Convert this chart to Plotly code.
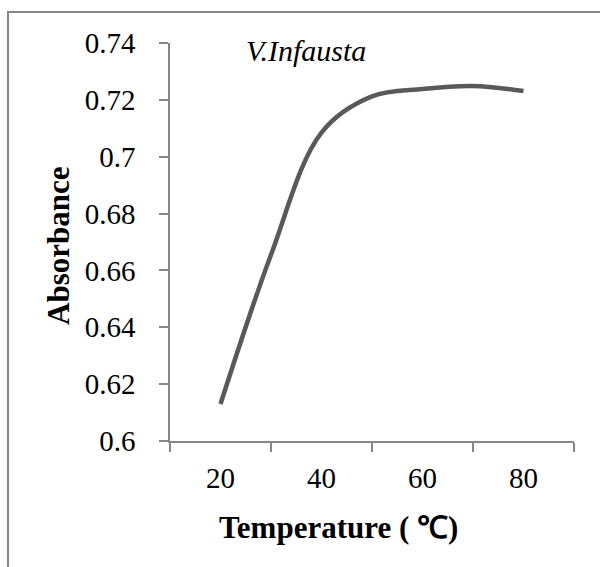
import plotly.graph_objects as go

temperature = [20, 30, 40, 50, 60, 70, 80]
absorbance = [0.613, 0.6655, 0.7085, 0.7212, 0.7238, 0.7249, 0.7231]
x_tick_vals = [20, 40, 60, 80]
x_tick_text = ["20", "40", "60", "80"]
x_tickmark_vals = [10, 30, 50, 70, 90]
y_tick_vals = [0.6, 0.62, 0.64, 0.66, 0.68, 0.7, 0.72, 0.74]
y_tick_text = ["0.6", "0.62", "0.64", "0.66", "0.68", "0.7", "0.72", "0.74"]

W, H = 600, 567
L, R, T, B = 170, 26, 43, 126
pw, ph = W - L - R, H - T - B

def px(x):
    return (x - L) / pw

def py(y):
    return (H - B - y) / ph

FONT = "Times New Roman, Liberation Serif, serif"
AX = "#868686"

fig = go.Figure()
fig.add_trace(go.Scatter(
    x=temperature, y=absorbance, mode="lines",
    line=dict(color="#595959", width=4.5, shape="spline", smoothing=1.0),
    hoverinfo="skip", showlegend=False,
))

fig.update_layout(
    width=W, height=H,
    margin=dict(l=L, r=R, t=T, b=B),
    paper_bgcolor="white", plot_bgcolor="white",
    font=dict(family=FONT, color="black", size=28),
    xaxis=dict(
        range=[10, 90], tickvals=x_tick_vals, ticktext=x_tick_text,
        ticks="", showgrid=False, zeroline=False,
        showline=True, linecolor=AX, linewidth=1.5,
        tickfont=dict(family=FONT, size=29, color="black"),
        ticklabelstandoff=10,
        minor=dict(tickvals=x_tickmark_vals, ticks="outside", ticklen=9,
                   tickcolor=AX, tickwidth=1.5, showgrid=False),
    ),
    yaxis=dict(
        range=[0.6, 0.74], tickvals=y_tick_vals, ticktext=y_tick_text,
        ticks="outside", ticklen=9, tickcolor=AX, tickwidth=1.5,
        showgrid=False, zeroline=False,
        showline=True, linecolor=AX, linewidth=1.5,
        tickfont=dict(family=FONT, size=29, color="black"),
        ticklabelstandoff=18,
    ),
    shapes=[dict(type="rect", xref="paper", yref="paper",
                 x0=px(8), x1=px(640), y0=py(640), y1=py(12),
                 line=dict(color=AX, width=2), fillcolor="rgba(0,0,0,0)",
                 layer="below")],
    annotations=[
        dict(text="<i>V.Infausta</i>", xref="paper", yref="paper",
             x=px(306), y=py(51), showarrow=False,
             font=dict(family=FONT, size=30, color="black"),
             xanchor="center", yanchor="middle"),
        dict(text="<b>Absorbance</b>", xref="paper", yref="paper",
             x=px(58), y=py(246), showarrow=False, textangle=-90,
             font=dict(family=FONT, size=31, color="black"),
             xanchor="center", yanchor="middle"),
        dict(text="<b>Temperature ( ℃)</b>", xref="paper", yref="paper",
             x=px(338), y=py(527), showarrow=False,
             font=dict(family=FONT, size=31, color="black"),
             xanchor="center", yanchor="middle"),
    ],
)

fig.write_html("out.html")
